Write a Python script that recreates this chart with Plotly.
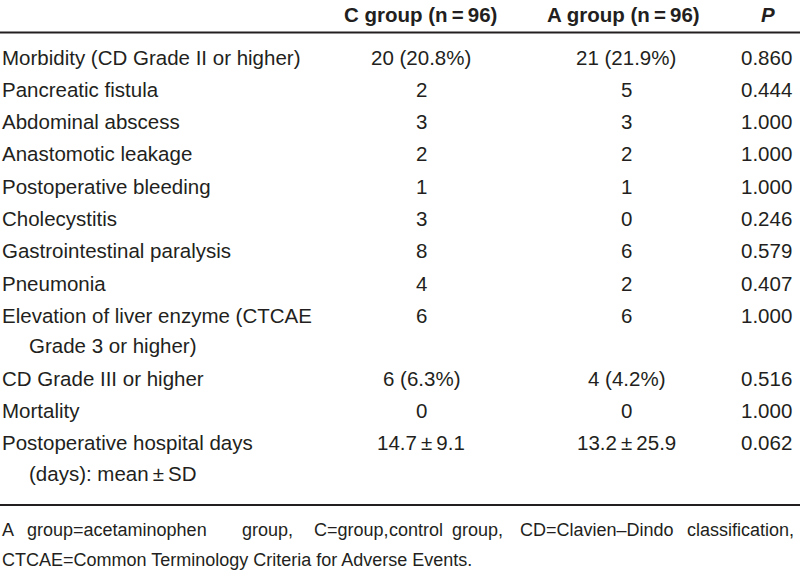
import plotly.graph_objects as go

# ---------------- data ----------------
headers = ["C group (n\u2009=\u200996)", "A group (n\u2009=\u200996)", "<i>P</i>"]
labels = [
    ["Morbidity (CD Grade II or higher)"],
    ["Pancreatic fistula"],
    ["Abdominal abscess"],
    ["Anastomotic leakage"],
    ["Postoperative bleeding"],
    ["Cholecystitis"],
    ["Gastrointestinal paralysis"],
    ["Pneumonia"],
    ["Elevation of liver enzyme (CTCAE", "Grade 3 or higher)"],
    ["CD Grade III or higher"],
    ["Mortality"],
    ["Postoperative hospital days", "(days): mean\u2009\u00b1\u2009SD"],
]
c_group = ["20 (20.8%)", "2", "3", "2", "1", "3", "8", "4", "6", "6 (6.3%)", "0",
           "14.7\u2009\u00b1\u20099.1"]
a_group = ["21 (21.9%)", "5", "3", "2", "1", "0", "6", "2", "6", "4 (4.2%)", "0",
           "13.2\u2009\u00b1\u200925.9"]
p_values = ["0.860", "0.444", "1.000", "1.000", "1.000", "0.246", "0.579", "0.407",
            "1.000", "0.516", "1.000", "0.062"]
footnote_line1 = ["A", "group=acetaminophen", "group,", "C=group,",
                  "control", "group,", "CD=Clavien\u2013Dindo", "classification,"]
footnote_line2 = "CTCAE=Common Terminology Criteria for Adverse Events."

# ---------------- layout constants ----------------
FONT = "Liberation Sans, Arial, sans-serif"
COLOR = "#231f20"
SIZE = 20.5
HEAD_SIZE = 20.5
HEADER_Y = 14
FIRST_ROW_Y = 57
ROW_PITCH = 32.3
LINE_PITCH = 30.5
INDENT = 27
COL_X = [421, 626, 766]
HEAD_X = [420, 623, 768]
TOP_RULE = 32.5
BOTTOM_RULE = 505
FOOT_Y = [530, 560]
FOOT_SIZE = 18
foot_word_x = [0, 25, 240, 312, 387, 450, 518, 685]

annotations = []

def add(text, x, y, anchor="center", size=SIZE, bold=False):
    t = f"<b>{text}</b>" if bold else text
    annotations.append(dict(text=t, x=x, y=y, xref="x", yref="y", xanchor=anchor,
                            yanchor="middle", showarrow=False,
                            font=dict(family=FONT, size=size, color=COLOR)))

for h, hx in zip(headers, HEAD_X):
    add(h, hx, HEADER_Y, size=HEAD_SIZE, bold=True)

y = FIRST_ROW_Y
for lab, c, a, p in zip(labels, c_group, a_group, p_values):
    for k, line in enumerate(lab):
        add(line, INDENT if k else 0, y + k * LINE_PITCH, anchor="left")
    add(c, COL_X[0], y)
    add(a, COL_X[1], y)
    add(p, COL_X[2], y)
    y += ROW_PITCH + (len(lab) - 1) * LINE_PITCH

for w, wx in zip(footnote_line1, foot_word_x):
    add(w, wx, FOOT_Y[0], anchor="left", size=FOOT_SIZE)
add(footnote_line2, 0, FOOT_Y[1], anchor="left", size=FOOT_SIZE)

shapes = [
    dict(type="line", xref="x", yref="y", x0=0, x1=800, y0=TOP_RULE, y1=TOP_RULE,
         line=dict(color=COLOR, width=2)),
    dict(type="line", xref="x", yref="y", x0=0, x1=800, y0=BOTTOM_RULE, y1=BOTTOM_RULE,
         line=dict(color=COLOR, width=2)),
]

fig = go.Figure()
fig.update_layout(
    width=800, height=573,
    margin=dict(l=0, r=0, t=0, b=0),
    paper_bgcolor="white", plot_bgcolor="white",
    xaxis=dict(range=[0, 800], visible=False, fixedrange=True),
    yaxis=dict(range=[573, 0], visible=False, fixedrange=True),
    annotations=annotations, shapes=shapes, showlegend=False,
)
fig.write_html("out.html", config={"displayModeBar": False},
               post_script="document.body.style.margin='0';document.body.style.overflow='hidden';")
